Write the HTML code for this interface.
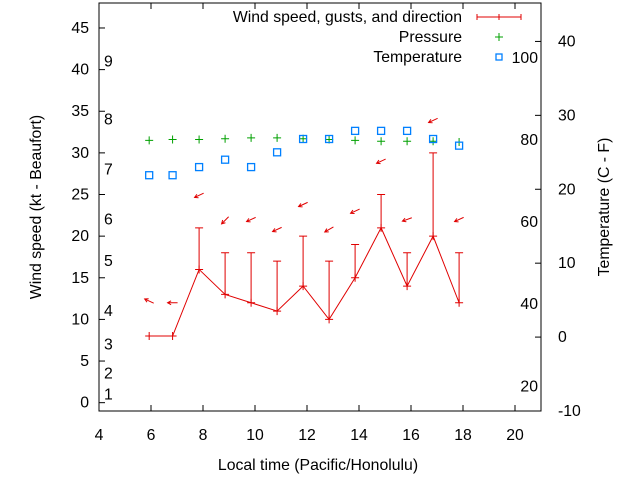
<!DOCTYPE html>
<html><head><meta charset="utf-8"><style>
body{margin:0;background:#fff}
svg{display:block;font-family:"Liberation Sans",sans-serif;font-size:15.8px}
</style></head><body>
<svg id="chart" width="640" height="480" viewBox="0 0 640 480">
<g id="axes"></g><g id="marks"></g>
</svg>
<script>
const hours=[5.93,6.83,7.85,8.85,9.85,10.85,11.85,12.85,13.85,14.85,15.85,16.85,17.85];
const wind=[8,8,16,13,12,11,14,10,15,21,14,20,12];
const gust=[null,null,21,18,18,17,20,17,19,25,18,30,18];
const pressure=[31.5,31.6,31.6,31.7,31.8,31.8,31.7,31.6,31.5,31.4,31.4,31.4,31.3];
const tempC=[21.9,21.9,23,24,23,25,26.8,26.8,27.9,27.9,27.9,26.8,25.9];
const arrowPos=[12.2,12,24.9,21.9,22,20.8,23.8,20.8,23,29,22,33.9,22];
const arrowDeg=[155,180,205,225,205,205,205,210,205,205,200,205,205];
const xTicks=[4,6,8,10,12,14,16,18,20];
const yTicks=[0,5,10,15,20,25,30,35,40,45];
const y2Ticks=[-10,0,10,20,30,40];
const fTicks=[20,40,60,80,100];
const beaufort=[1,2,3,4,5,6,7,8,9];
const beaufortKt=[1,3.5,7,11,17,22,28,34,41];
const L=99,R=541,T=3,B=411;
const X=h=>L+(h-4)*(R-L)/17;
const Y=v=>B-(v+1)*(B-T)/49;
const Y2=c=>B-(c+10)*(B-T)/55.2;
const NS='http://www.w3.org/2000/svg';
function mk(tag,attrs,parent,text){const e=document.createElementNS(NS,tag);for(const k in attrs)e.setAttribute(k,attrs[k]);if(text!==undefined)e.textContent=text;parent.appendChild(e);return e;}
const ax=document.getElementById('axes'),mg=document.getElementById('marks');
const frame=mk('rect',{x:L,y:T,width:R-L,height:B-T,fill:'none',stroke:'#000','stroke-width':1},ax);


xTicks.forEach(t=>{const x=X(t);
mk('line',{x1:x,x2:x,y1:B,y2:B-6,stroke:'#000'},ax);mk('line',{x1:x,x2:x,y1:T,y2:T+6,stroke:'#000'},ax);
const e=mk('text',{x:x,y:B+29,'text-anchor':'middle'},ax,t);

});
yTicks.forEach(t=>{const y=Y(t);
mk('line',{x1:L,x2:L+6,y1:y,y2:y,stroke:'#000'},ax);
const e=mk('text',{x:L-10,y:y+5,'text-anchor':'end'},ax,t);

});
y2Ticks.forEach(t=>{const y=Y2(t);
mk('line',{x1:R,x2:R-6,y1:y,y2:y,stroke:'#000'},ax);
const e=mk('text',{x:R+17,y:y+5,'text-anchor':'start'},ax,t);

});
fTicks.forEach(f=>{const y=Y2((f-32)*5/9);
const e=mk('text',{x:R-3,y:y+5,'text-anchor':'end'},ax,f);

});
beaufort.forEach((b,i)=>{const y=Y(beaufortKt[i]);
const e=mk('text',{x:L+5,y:y+5},ax,b);

});
let t1=mk('text',{x:318,y:470,'text-anchor':'middle'},ax,'Local time (Pacific/Honolulu)');


let t2=mk('text',{x:0,y:0,'text-anchor':'middle',transform:'translate(41,207) rotate(-90)'},ax,'Wind speed (kt - Beaufort)');


let t3=mk('text',{x:0,y:0,'text-anchor':'middle',transform:'translate(609,207) rotate(-90)'},ax,'Temperature (C - F)');


let l1=mk('text',{x:462,y:22,'text-anchor':'end'},ax,'Wind speed, gusts, and direction');


mk('path',{d:'M477 17H521M477 14V20M521 14V20M499 14V20',stroke:'#e00000',fill:'none'},ax);
let l2=mk('text',{x:462,y:42,'text-anchor':'end'},ax,'Pressure');


mk('path',{d:'M495 37H503M499 33V41',stroke:'#00a000',fill:'none'},ax);
let l3=mk('text',{x:462,y:62,'text-anchor':'end'},ax,'Temperature');


mk('rect',{x:496,y:54,width:6,height:6,stroke:'#0080ff',fill:'none','stroke-width':1.3},ax);
const pts=hours.map((h,i)=>X(h)+','+Y(wind[i])).join(' ');
const wl=mk('polyline',{points:pts,fill:'none',stroke:'#e00000'},mg);


hours.forEach((h,i)=>{const x=X(h),y=Y(wind[i]);
const c=mk('path',{d:`M${x-4} ${y}H${x+4}M${x} ${y-4}V${y+4}`,stroke:'#e00000'},mg);


if(gust[i]!==null){const g=Y(gust[i]);
const b=mk('path',{d:`M${x} ${y}V${g}M${x-4} ${g}H${x+4}`,stroke:'#e00000',fill:'none'},mg);

}
const p=Y(pressure[i]);
const pm=mk('path',{d:`M${x-4} ${p}H${x+4}M${x} ${p-4}V${p+4}`,stroke:'#00a000'},mg);


const ty=Y2(tempC[i]);
const tm=mk('rect',{x:x-3.5,y:ty-3.5,width:7,height:7,fill:'none',stroke:'#0080ff','stroke-width':1.3},mg);


const ay=Y(arrowPos[i]),a=arrowDeg[i]*Math.PI/180,dx=Math.cos(a)*5,dy=-Math.sin(a)*5;
const hx=x+dx,hy=ay+dy,ba=Math.atan2(-dy,-dx);
const h1x=hx+Math.cos(ba+0.5)*4,h1y=hy+Math.sin(ba+0.5)*4,h2x=hx+Math.cos(ba-0.5)*4,h2y=hy+Math.sin(ba-0.5)*4;
const ar=mk('path',{d:`M${x-dx} ${ay-dy}L${hx} ${hy}M${h1x} ${h1y}L${hx} ${hy}L${h2x} ${h2y}`,stroke:'#e00000',fill:'none'},mg);


});
</script>
</body></html>
